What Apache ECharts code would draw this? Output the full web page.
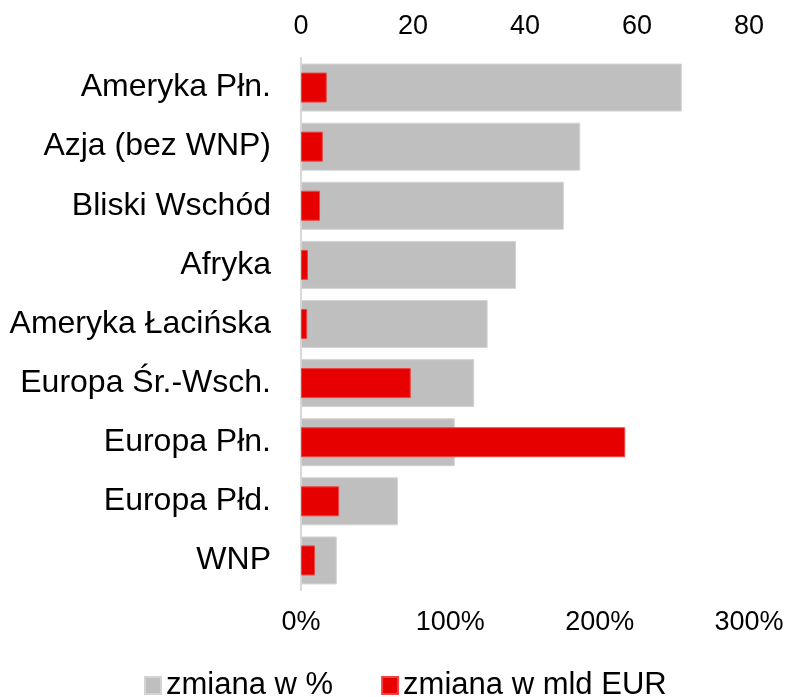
<!DOCTYPE html>
<html lang="pl">
<head>
  <meta charset="UTF-8">
  <title>zmiana</title>
  <script src="https://cdn.jsdelivr.net/npm/echarts@6/dist/echarts.min.js"></script>
  <style>
    * { margin: 0; padding: 0; }
    body { background: #fff; }
    #chart { width: 792px; height: 697px; }
  </style>
</head>
<body>
  <div id="chart"></div>
  <script>
    var regions = ['Ameryka Płn.', 'Azja (bez WNP)', 'Bliski Wschód', 'Afryka', 'Ameryka Łacińska',
      'Europa Śr.-Wsch.', 'Europa Płn.', 'Europa Płd.', 'WNP'];
    // zmiana w % (dolna oś)
    var changePct = [255, 187, 176, 144, 125, 116, 103, 65, 24];
    // zmiana w mld EUR (górna oś)
    var changeEur = [4.6, 3.9, 3.4, 1.25, 1.1, 19.6, 57.9, 6.8, 2.5];

    var font = 'Liberation Sans, Arial, sans-serif';

    var myChart = echarts.init(document.getElementById('chart'));

    var option = {
      animation: false,
      grid: { left: 301, right: 43, top: 58, bottom: 107, containLabel: false },
      legend: {
        left: 144,
        top: 670,
        padding: 0,
        itemWidth: 16,
        itemHeight: 17,
        itemGap: 48,
        icon: 'rect',
        textStyle: { fontFamily: font, fontSize: 31, color: '#000' },
        data: ['zmiana w %', 'zmiana w mld EUR']
      },
      xAxis: [{
        type: 'value',
        position: 'bottom',
        min: 0, max: 3, interval: 1,
        axisLine: { show: false },
        axisTick: { show: false },
        splitLine: { show: false },
        axisLabel: {
          margin: 19,
          fontFamily: font, fontSize: 27, color: '#000',
          formatter: function (v) { return Math.round(v * 100) + '%'; }
        }
      }, {
        type: 'value',
        position: 'top',
        min: 0, max: 80, interval: 20,
        axisLine: { show: false },
        axisTick: { show: false },
        splitLine: { show: false },
        axisLabel: { margin: 18, fontFamily: font, fontSize: 27, color: '#000' }
      }],
      yAxis: [{
        type: 'category',
        inverse: true,
        data: regions,
        axisLine: { show: true, lineStyle: { color: '#d9d9d9', width: 2 } },
        axisTick: { show: false },
        axisLabel: { margin: 30, fontFamily: font, fontSize: 32, color: '#000' }
      }, {
        type: 'category',
        inverse: true,
        show: false,
        data: regions
      }],
      series: [{
        name: 'zmiana w %',
        type: 'bar',
        xAxisIndex: 0,
        yAxisIndex: 0,
        barWidth: 48,
        itemStyle: { color: '#bfbfbf', borderColor: '#d4d4d4', borderWidth: 1 },
        data: changePct.map(function (v) { return v / 100; })
      }, {
        name: 'zmiana w mld EUR',
        type: 'bar',
        xAxisIndex: 1,
        yAxisIndex: 1,
        barWidth: 30,
        itemStyle: { color: '#e60000', borderColor: '#ee4444', borderWidth: 1 },
        data: changeEur
      }]
    };

    myChart.setOption(option);
  </script>
</body>
</html>
